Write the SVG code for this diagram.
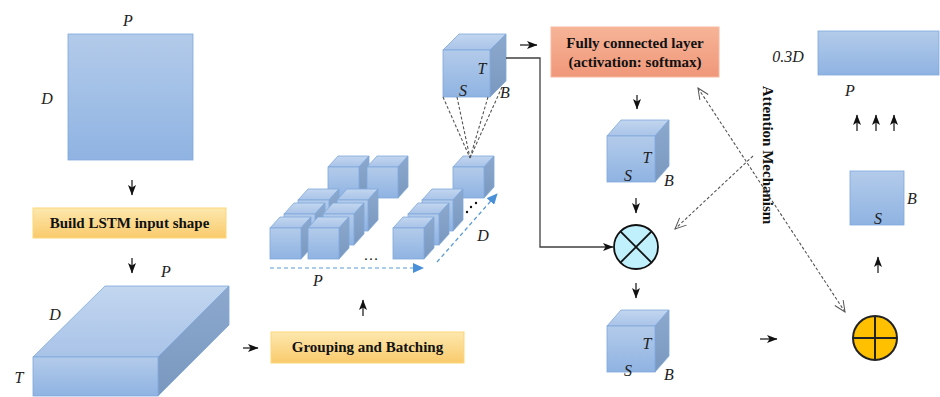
<svg xmlns="http://www.w3.org/2000/svg" xmlns:xlink="http://www.w3.org/1999/xlink" width="940" height="397" viewBox="0 0 940 397">
<defs>
  <linearGradient id="gFront" x1="0" y1="0" x2="0" y2="1">
    <stop offset="0" stop-color="#b3cbea"/>
    <stop offset="1" stop-color="#8fb3e2"/>
  </linearGradient>
  <linearGradient id="gTop" x1="0" y1="0" x2="0" y2="1">
    <stop offset="0" stop-color="#c2d6ef"/>
    <stop offset="1" stop-color="#a9c3e8"/>
  </linearGradient>
  <linearGradient id="gSide" x1="0" y1="0" x2="0" y2="1">
    <stop offset="0" stop-color="#8ca8cd"/>
    <stop offset="1" stop-color="#7a98bf"/>
  </linearGradient>
  <linearGradient id="gYellow" x1="0" y1="0" x2="0" y2="1">
    <stop offset="0" stop-color="#fde8ae"/>
    <stop offset="1" stop-color="#f9ca6c"/>
  </linearGradient>
  <linearGradient id="gOrange" x1="0" y1="0" x2="0" y2="1">
    <stop offset="0" stop-color="#f6b497"/>
    <stop offset="1" stop-color="#f0977a"/>
  </linearGradient>
  <marker id="ah" markerWidth="11" markerHeight="10" refX="10" refY="5" orient="auto" markerUnits="userSpaceOnUse">
    <path d="M0,1 L10.5,5 L0,9 L2.6,5 z" fill="#111"/>
  </marker>
  <marker id="ahBlue" markerWidth="12" markerHeight="10" refX="10" refY="5" orient="auto" markerUnits="userSpaceOnUse">
    <path d="M0,0 L11,5 L0,10 z" fill="#4a90d9"/>
  </marker>
  <marker id="ahOpen" markerWidth="14" markerHeight="12" refX="1" refY="6" orient="auto" markerUnits="userSpaceOnUse">
    <path d="M12,1 L1,6 L12,11" fill="none" stroke="#555" stroke-width="1"/>
  </marker>
  <marker id="ahOpenEnd" markerWidth="14" markerHeight="12" refX="12" refY="6" orient="auto" markerUnits="userSpaceOnUse">
    <path d="M1,1 L12,6 L1,11" fill="none" stroke="#555" stroke-width="1"/>
  </marker>
  <g id="cubeS">
    <polygon points="0,0 10,-11 41,-11 31,0" fill="url(#gTop)" stroke="#7fa8dc" stroke-width="0.8"/>
    <polygon points="31,0 41,-11 41,20 31,31" fill="url(#gSide)" stroke="#7fa8dc" stroke-width="0.8"/>
    <rect x="0" y="0" width="31" height="31" fill="url(#gFront)" stroke="#7fa8dc" stroke-width="0.8"/>
  </g>
  <g id="cubeM">
    <polygon points="0,0 14,-16 62,-16 48,0" fill="url(#gTop)" stroke="#7fa8dc" stroke-width="0.8"/>
    <polygon points="48,0 62,-16 62,30 48,46" fill="url(#gSide)" stroke="#7fa8dc" stroke-width="0.8"/>
    <rect x="0" y="0" width="48" height="46" fill="url(#gFront)" stroke="#7fa8dc" stroke-width="0.8"/>
  </g>
</defs>
<style>
  text { font-family: 'Liberation Serif', 'DejaVu Serif', serif; }
  .lbl { font-style: italic; font-size: 16px; fill: #222; }
  .box { font-weight: bold; font-size: 15px; fill: #111; }
  .arr { stroke: #111; stroke-width: 1.2; fill: none; marker-end: url(#ah); }
  .dash { stroke: #555; stroke-width: 1.1; stroke-dasharray: 3,2; fill: none; }
  .face { stroke: #7fa8dc; stroke-width: 0.8; }
</style>

<!-- Input matrix -->
<g id="input-matrix">
  <rect x="68" y="34" width="125" height="126" fill="url(#gFront)" class="face"/>
  <text class="lbl" x="128" y="26" text-anchor="middle">P</text>
  <text class="lbl" x="47" y="104" text-anchor="middle">D</text>
</g>

<!-- Build LSTM input shape -->
<g id="build-lstm">
  <rect x="33" y="208" width="193" height="30" fill="url(#gYellow)" stroke="#fbd77a" stroke-width="1"/>
  <text class="box" x="129.5" y="228" text-anchor="middle">Build LSTM input  shape</text>
</g>

<!-- Slab -->
<g id="slab">
  <polygon points="33,357 105,286 229,286 158,357" fill="url(#gTop)" class="face"/>
  <polygon points="158,357 229,286 229,325 158,396" fill="url(#gSide)" class="face"/>
  <rect x="33" y="357" width="125" height="39" fill="url(#gFront)" class="face"/>
  <text class="lbl" x="55" y="320" text-anchor="middle">D</text>
  <text class="lbl" x="166" y="277" text-anchor="middle">P</text>
  <text class="lbl" x="19" y="383" text-anchor="middle">T</text>
</g>

<!-- Grouping and Batching -->
<g id="grouping">
  <rect x="271" y="332" width="193" height="31" fill="url(#gYellow)" stroke="#fbd77a" stroke-width="1"/>
  <text class="box" x="367.5" y="352" text-anchor="middle">Grouping  and Batching</text>
</g>

<!-- Batched cubes -->
<g id="batches">
  <use xlink:href="#cubeS" x="328" y="167"/>
  <use xlink:href="#cubeS" x="367" y="167"/>
  <use xlink:href="#cubeS" x="298" y="200"/>
  <use xlink:href="#cubeS" x="337" y="200"/>
  <use xlink:href="#cubeS" x="284" y="214"/>
  <use xlink:href="#cubeS" x="323" y="214"/>
  <use xlink:href="#cubeS" x="270" y="228"/>
  <use xlink:href="#cubeS" x="308" y="228"/>
  <use xlink:href="#cubeS" x="453" y="167"/>
  <use xlink:href="#cubeS" x="422" y="200"/>
  <use xlink:href="#cubeS" x="408" y="214"/>
  <use xlink:href="#cubeS" x="393" y="228"/>
  <text x="371" y="260" text-anchor="middle" font-size="15" fill="#111">…</text>
  <circle cx="467" cy="212" r="1.2" fill="#111"/>
  <circle cx="471" cy="207" r="1.2" fill="#111"/>
  <circle cx="476" cy="203" r="1.2" fill="#111"/>
  <line x1="270" y1="268" x2="423" y2="268" stroke="#5b9bd5" stroke-width="1.2" stroke-dasharray="4,3" marker-end="url(#ahBlue)"/>
  <line x1="437" y1="262" x2="497" y2="194" stroke="#5b9bd5" stroke-width="1.2" stroke-dasharray="4,3" marker-end="url(#ahBlue)"/>
  <text class="lbl" x="318" y="286" text-anchor="middle">P</text>
  <text class="lbl" x="483" y="241" text-anchor="middle">D</text>
</g>

<!-- Single batch cube -->
<g id="batch-cube">
  <polygon points="443,50 459,34 506,34 490,50" fill="url(#gTop)" class="face"/>
  <polygon points="490,50 506,34 506,81 490,97" fill="url(#gSide)" class="face"/>
  <rect x="443" y="50" width="47" height="47" fill="url(#gFront)" class="face"/>
  <text class="lbl" x="482" y="74" text-anchor="middle">T</text>
  <text class="lbl" x="463" y="96" text-anchor="middle">S</text>
  <text class="lbl" x="505" y="98" text-anchor="middle">B</text>
</g>

<!-- Fully connected layer -->
<g id="fc-layer">
  <rect x="551" y="27" width="168" height="50" fill="url(#gOrange)" stroke="#f7b9a0" stroke-width="1"/>
  <text class="box" x="635" y="48" text-anchor="middle">Fully connected layer</text>
  <text class="box" x="635" y="67" text-anchor="middle">(activation: softmax)</text>
</g>

<!-- Attention weights cube -->
<g id="weight-cube">
  <use xlink:href="#cubeM" x="607" y="136"/>
  <text class="lbl" x="647" y="163" text-anchor="middle">T</text>
  <text class="lbl" x="628" y="181" text-anchor="middle">S</text>
  <text class="lbl" x="669" y="186" text-anchor="middle">B</text>
</g>

<!-- Multiply -->
<g id="multiply">
  <circle cx="636" cy="247" r="22" fill="#bff0fc" stroke="#111" stroke-width="1.8"/>
  <line x1="620.4" y1="231.4" x2="651.6" y2="262.6" stroke="#111" stroke-width="1.8"/>
  <line x1="651.6" y1="231.4" x2="620.4" y2="262.6" stroke="#111" stroke-width="1.8"/>
</g>

<!-- Weighted cube -->
<g id="weighted-cube">
  <use xlink:href="#cubeM" x="607" y="326"/>
  <text class="lbl" x="647" y="349" text-anchor="middle">T</text>
  <text class="lbl" x="628" y="376" text-anchor="middle">S</text>
  <text class="lbl" x="669" y="380" text-anchor="middle">B</text>
</g>

<!-- Attention label -->
<g id="attention-label">
  <text class="box" transform="translate(763,155) rotate(90)" text-anchor="middle">Attention Mechanism</text>
</g>

<!-- Output -->
<g id="output">
  <rect x="818" y="31" width="121" height="44" fill="url(#gFront)" class="face"/>
  <text class="lbl" x="788" y="62" text-anchor="middle">0.3D</text>
  <text class="lbl" x="850" y="96" text-anchor="middle">P</text>
</g>

<g id="sb-square">
  <rect x="850" y="171" width="54" height="54" fill="url(#gFront)" class="face"/>
  <text class="lbl" x="912" y="204" text-anchor="middle">B</text>
  <text class="lbl" x="878" y="224" text-anchor="middle">S</text>
</g>

<g id="sum">
  <circle cx="875" cy="338" r="22" fill="#ffc000" stroke="#222" stroke-width="2"/>
  <line x1="853" y1="338" x2="897" y2="338" stroke="#222" stroke-width="2"/>
  <line x1="875" y1="316" x2="875" y2="360" stroke="#222" stroke-width="2"/>
</g>

<!-- Connectors -->
<g id="connectors">
  <line class="arr" x1="132" y1="180" x2="132" y2="195"/>
  <line class="arr" x1="132" y1="258" x2="132" y2="273"/>
  <line class="arr" x1="243" y1="348" x2="258" y2="348"/>
  <line class="arr" x1="363" y1="316" x2="363" y2="300"/>
  <line class="arr" x1="520" y1="45" x2="537" y2="45"/>
  <line class="arr" x1="637" y1="95" x2="637" y2="109"/>
  <line class="arr" x1="636" y1="198" x2="636" y2="213"/>
  <line class="arr" x1="636" y1="283" x2="636" y2="298"/>
  <line class="arr" x1="760" y1="339" x2="777" y2="339"/>
  <line class="arr" x1="878" y1="273" x2="878" y2="257"/>
  <line class="arr" x1="857" y1="131" x2="857" y2="115"/>
  <line class="arr" x1="876" y1="131" x2="876" y2="115"/>
  <line class="arr" x1="894" y1="131" x2="894" y2="115"/>
  <polyline points="506,58 540,58 540,247 613,247" fill="none" stroke="#404040" stroke-width="1.3" marker-end="url(#ah)"/>
  <line class="dash" x1="443" y1="97" x2="470" y2="158"/>
  <line class="dash" x1="457" y1="97" x2="470" y2="158"/>
  <line class="dash" x1="488" y1="97" x2="470" y2="158"/>
  <line class="dash" x1="502" y1="87" x2="470" y2="158"/>
  <line class="dash" x1="698" y1="88" x2="845" y2="312" marker-start="url(#ahOpen)" marker-end="url(#ahOpenEnd)"/>
  <line class="dash" x1="753" y1="156" x2="675" y2="229" marker-end="url(#ahOpenEnd)"/>
</g>
</svg>
